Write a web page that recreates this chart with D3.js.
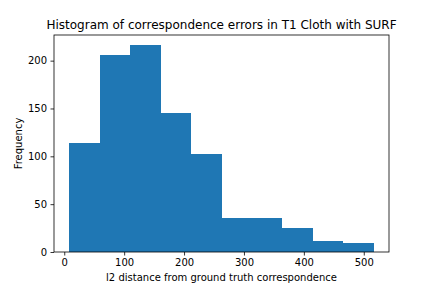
<!DOCTYPE html>
<html>
<head>
<meta charset="utf-8">
<script src="https://cdn.jsdelivr.net/npm/d3@7"></script>
<style>
  body { margin: 0; background: #fff; }
  text { font-family: "DejaVu Sans", sans-serif; fill: #000; }
</style>
</head>
<body>
<div id="chart"></div>
<script>
// Bin edges and counts
var binEdges = [8.3, 59.1, 110.0, 160.8, 211.7, 262.5, 313.4, 364.2, 415.0, 465.9, 516.7];
var counts = [114, 206, 216, 145, 102, 36, 36, 25, 12, 9];
var xTicks = [0, 100, 200, 300, 400, 500];
var yTicks = [0, 50, 100, 150, 200];

var W = 432, H = 288;
var margin = {top: 35, right: 43, bottom: 36, left: 54},
    width = W - margin.left - margin.right,
    height = H - margin.top - margin.bottom;

var svg = d3.select("#chart")
  .append("svg")
    .attr("width", W)
    .attr("height", H);

var g = svg.append("g")
    .attr("transform", "translate(" + margin.left + "," + margin.top + ")");

var bins = counts.map(function(c, i) {
    return {x0: binEdges[i], x1: binEdges[i + 1], count: c};
});

// matplotlib-style 5% padding
var xMin = binEdges[0], xMax = binEdges[binEdges.length - 1];
var pad = (xMax - xMin) * 0.05;
var x = d3.scaleLinear()
    .domain([xMin - pad, xMax + pad])
    .range([0, width]);

var y = d3.scaleLinear()
    .domain([0, d3.max(counts) * 1.05])
    .range([height, 0]);

// Bars, snapped to pixels so no seams show between neighbours
g.append("g")
  .selectAll("rect")
  .data(bins)
  .join("rect")
    .attr("x", function(d) { return x(d.x0); })
    .attr("y", function(d) { return y(d.count); })
    .attr("width", function(d) { return x(d.x1) - x(d.x0); })
    .attr("height", function(d) { return height - y(d.count); })
    .attr("fill", "#1f77b4")
    .attr("shape-rendering", "crispEdges");

// Axes
var xAxis = g.append("g")
    .attr("transform", "translate(0," + height + ")")
    .call(d3.axisBottom(x).tickValues(xTicks).tickSize(3.5).tickPadding(3.5).tickSizeOuter(0));
var yAxis = g.append("g")
    .call(d3.axisLeft(y).tickValues(yTicks).tickSize(3.5).tickPadding(3.5).tickSizeOuter(0));

[xAxis, yAxis].forEach(function(a) {
    a.select(".domain").remove();
    a.selectAll("line").attr("stroke", "#000").attr("stroke-width", 0.8);
    a.selectAll("text").style("font-size", "10px").style("font-family", "DejaVu Sans");
});

// Frame
g.append("rect")
    .attr("width", width)
    .attr("height", height)
    .attr("fill", "none")
    .attr("stroke", "#000")
    .attr("stroke-width", 0.8);

// Title and labels
svg.append("text")
    .attr("x", margin.left + width / 2)
    .attr("y", margin.top - 6)
    .attr("text-anchor", "middle")
    .style("font-size", "12px")
    .text("Histogram of correspondence errors in T1 Cloth with SURF");

svg.append("text")
    .attr("x", margin.left + width / 2)
    .attr("y", 281)
    .attr("text-anchor", "middle")
    .style("font-size", "10px")
    .text("l2 distance from ground truth correspondence");

svg.append("text")
    .attr("transform", "translate(22," + (margin.top + height / 2) + ") rotate(-90)")
    .attr("text-anchor", "middle")
    .style("font-size", "10px")
    .text("Frequency");
</script>
</body>
</html>
